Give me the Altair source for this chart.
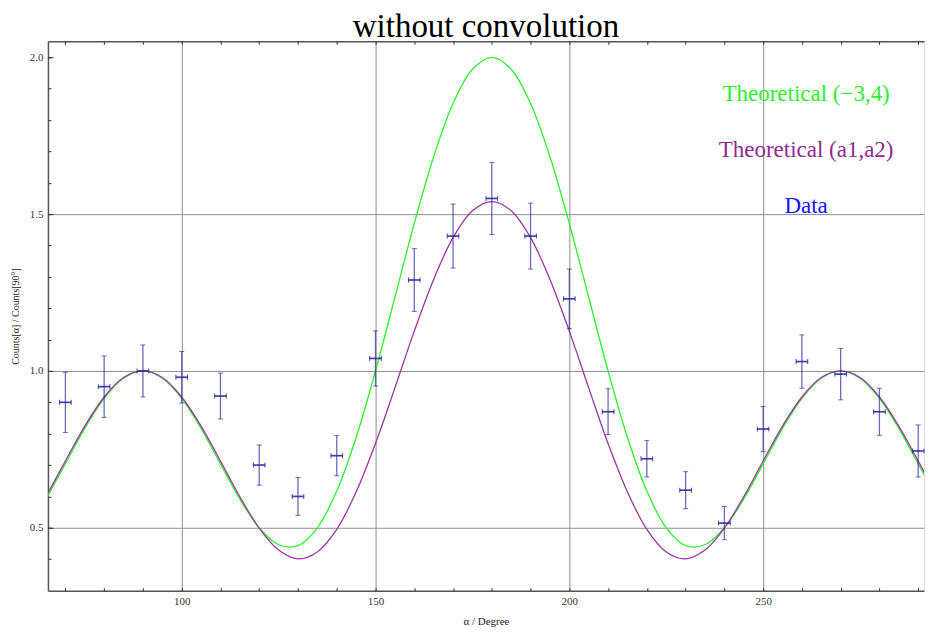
import altair as alt
import pandas as pd

# ---------------- data ----------------
angles = [70, 80, 90, 100, 110, 120, 130, 140, 150, 160, 170, 180,
          190, 200, 210, 220, 230, 240, 250, 260, 270, 280, 290]
ratios = [0.90, 0.95, 1.00, 0.98, 0.92, 0.70, 0.60, 0.73, 1.04, 1.29, 1.43, 1.55,
          1.43, 1.23, 0.87, 0.72, 0.62, 0.515, 0.815, 1.03, 0.99, 0.87, 0.745]
ratio_err = [0.096, 0.098, 0.083, 0.082, 0.073, 0.064, 0.060, 0.064, 0.088, 0.100, 0.102, 0.115,
             0.105, 0.095, 0.073, 0.058, 0.059, 0.053, 0.072, 0.085, 0.082, 0.075, 0.083]
angle_err = [1.5] * 23

curve_angles = [65, 70, 75, 80, 85, 90, 95, 100, 105, 110, 115, 120, 125, 130, 135, 140,
                145, 150, 155, 160, 165, 170, 175, 180, 185, 190, 195, 200, 205, 210, 215,
                220, 225, 230, 235, 240, 245, 250, 255, 260, 265, 270, 275, 280, 285, 290, 295]
green_vals = [0.592, 0.704, 0.817, 0.913, 0.977, 1.000, 0.977, 0.913, 0.817, 0.704, 0.592, 0.500,
              0.446, 0.443, 0.500, 0.617, 0.788, 1.000, 1.235, 1.470, 1.683, 1.853, 1.962, 2.000,
              1.962, 1.853, 1.683, 1.470, 1.235, 1.000, 0.788, 0.617, 0.500, 0.443, 0.446, 0.500,
              0.592, 0.704, 0.817, 0.913, 0.977, 1.000, 0.977, 0.913, 0.817, 0.704, 0.592]
purple_vals = [0.599, 0.713, 0.824, 0.917, 0.979, 1.000, 0.979, 0.917, 0.824, 0.713, 0.599, 0.499,
               0.429, 0.401, 0.423, 0.495, 0.614, 0.769, 0.946, 1.127, 1.292, 1.425, 1.511, 1.540,
               1.511, 1.425, 1.292, 1.127, 0.946, 0.769, 0.614, 0.495, 0.423, 0.401, 0.429, 0.499,
               0.599, 0.713, 0.824, 0.917, 0.979, 1.000, 0.979, 0.917, 0.824, 0.713, 0.599]

series_names = ["Theoretical (\u22123,4)", "Theoretical (a1,a2)", "Data"]

x_ticks_major = [100, 150, 200, 250]
x_ticks_minor = [70, 80, 90, 100, 110, 120, 130, 140, 150, 160, 170, 180, 190, 200,
                 210, 220, 230, 240, 250, 260, 270, 280, 290]
y_ticks_major = [0.5, 1.0, 1.5, 2.0]
y_ticks_minor = [0.4, 0.5, 0.6, 0.7, 0.8, 0.9, 1.0, 1.1, 1.2, 1.3, 1.4, 1.5, 1.6,
                 1.7, 1.8, 1.9, 2.0]

# ---------------- tables ----------------
data_df = pd.DataFrame({"angle": angles, "ratio": ratios, "err": ratio_err, "aerr": angle_err})
lines_df = pd.concat([
    pd.DataFrame({"angle": curve_angles, "value": green_vals, "series": series_names[0]}),
    pd.DataFrame({"angle": curve_angles, "value": purple_vals, "series": series_names[1]}),
])

SERIF = "Liberation Serif"
GREEN = "#2cf02c"
PURPLE = "#9a35a0"
BLUE = "#0000ff"
NAVY = "#2c2c9c"
FRAME = "#555555"
GRID = "#8f8f8f"

xs = alt.Scale(domain=[65.5, 291.5], nice=False, zero=False)
ys = alt.Scale(domain=[0.2995, 2.051], nice=False, zero=False)
color_scale = alt.Scale(domain=series_names, range=[GREEN, PURPLE, BLUE])

# axes
x_main = alt.Axis(values=x_ticks_major, title="\u03b1 / Degree", grid=True, gridColor=GRID,
                  gridWidth=1, ticks=False, labelPadding=5, domainColor=FRAME, domainWidth=1.5,
                  labelFont=SERIF, labelFontSize=11, labelColor="#333333",
                  titleFont=SERIF, titleFontSize=11, titleFontWeight="normal",
                  titleColor="#222222", titlePadding=9, orient="bottom")
y_main = alt.Axis(values=y_ticks_major, title="Counts[\u03b1] / Counts[90\u00b0]", grid=True,
                  gridColor=GRID, gridWidth=1,
                  gridOpacity={"condition": {"test": "datum.value >= 2", "value": 0}, "value": 1},
                  ticks=False, labelPadding=5, domainColor=FRAME, domainWidth=1.5, format=".1f",
                  labelFont=SERIF, labelFontSize=11, labelColor="#333333",
                  titleFont=SERIF, titleFontSize=10, titleFontWeight="normal",
                  titleColor="#222222", titlePadding=9, orient="left")
x_minor_bottom = alt.Axis(values=x_ticks_minor, labels=False, domain=False, grid=False,
                          ticks=True, tickSize=3, offset=-3, tickColor="#333333",
                          title=None, orient="bottom")
y_minor_left = alt.Axis(values=y_ticks_minor, labels=False, domain=False, grid=False,
                        ticks=True, tickSize=3, offset=-3, tickColor="#333333",
                        title=None, orient="left")
x_top_frame = alt.Axis(values=x_ticks_major, labels=False, domain=True, domainColor=FRAME,
                       domainWidth=1.5, grid=False, ticks=False, title=None, orient="top")
y_major_left = alt.Axis(values=y_ticks_major, labels=False, domain=False, grid=False,
                        ticks=True, tickSize=5, offset=-5, tickColor="#333333",
                        title=None, orient="left")
x_minor_top = alt.Axis(values=x_ticks_minor, labels=False, domain=False, grid=False,
                       ticks=True, tickSize=3, offset=-3, tickColor="#333333",
                       title=None, orient="top")

legend = alt.Legend(
    title=None, orient="none", legendX=736, legendY=41, direction="vertical",
    symbolSize=0, symbolOpacity=0, symbolStrokeWidth=0, padding=0, labelOffset=0,
    labelFont=SERIF, labelFontSize=23, labelAlign="center", labelBaseline="middle",
    labelLimit=400, rowPadding=32,
    labelColor=alt.ExprRef(
        "datum.value === 'Data' ? '#1515ff' : (datum.value === 'Theoretical (a1,a2)' ? '#8e2a90' : '#2cf02c')"
    ),
)

lines = alt.Chart(lines_df)

green = lines.transform_filter(alt.datum.series == series_names[0]).mark_line(
    clip=True, strokeWidth=1.3, interpolate="catmull-rom"
).encode(
    x=alt.X("angle:Q", scale=xs, axis=x_main),
    y=alt.Y("value:Q", scale=ys, axis=y_main),
    color=alt.Color("series:N", scale=color_scale, legend=legend),
)

purple = lines.transform_filter(alt.datum.series == series_names[1]).mark_line(
    clip=True, strokeWidth=1.3, interpolate="catmull-rom"
).encode(
    x=alt.X("angle:Q", scale=xs, axis=x_minor_bottom),
    y=alt.Y("value:Q", scale=ys, axis=y_minor_left),
    color=alt.Color("series:N", scale=color_scale, legend=legend),
)

pts = alt.Chart(data_df).transform_calculate(
    lo="datum.ratio - datum.err", hi="datum.ratio + datum.err",
    alo="datum.angle - datum.aerr", ahi="datum.angle + datum.aerr",
)

vbars = pts.mark_rule(color=NAVY, opacity=0.7, strokeWidth=1.3).encode(
    x=alt.X("angle:Q", scale=xs, axis=x_top_frame),
    y=alt.Y("lo:Q", scale=ys, axis=y_major_left),
    y2="hi:Q",
)

hbars = pts.mark_rule(color=NAVY, opacity=0.9, strokeWidth=1.7).encode(
    x=alt.X("alo:Q", scale=xs, axis=x_minor_top),
    x2="ahi:Q",
    y=alt.Y("ratio:Q", scale=ys, axis=None),
)

vcaps = pts.transform_fold(["lo", "hi"], as_=["k", "yv"]).mark_tick(
    color=NAVY, opacity=0.7, orient="horizontal", size=5, thickness=1
).encode(
    x=alt.X("angle:Q", scale=xs, axis=None),
    y=alt.Y("yv:Q", scale=ys, axis=None),
)

hcaps = pts.transform_fold(["alo", "ahi"], as_=["k", "xv"]).mark_tick(
    color=NAVY, opacity=0.9, orient="vertical", size=5, thickness=1
).encode(
    x=alt.X("xv:Q", scale=xs, axis=None),
    y=alt.Y("ratio:Q", scale=ys, axis=None),
)

chart = alt.layer(green, purple, vbars, hbars, vcaps, hcaps).resolve_axis(
    x="independent", y="independent"
).properties(
    width=877, height=550,
    title=alt.TitleParams("without convolution", font=SERIF, fontSize=33,
                          fontWeight="normal", color="#000000", anchor="middle",
                          frame="group", offset=-3),
    padding={"left": 2, "top": 2, "right": 0, "bottom": 0},
).configure_view(stroke=None).configure(background="white")

chart.save("out.html", embed_options={"renderer": "svg", "actions": False})
